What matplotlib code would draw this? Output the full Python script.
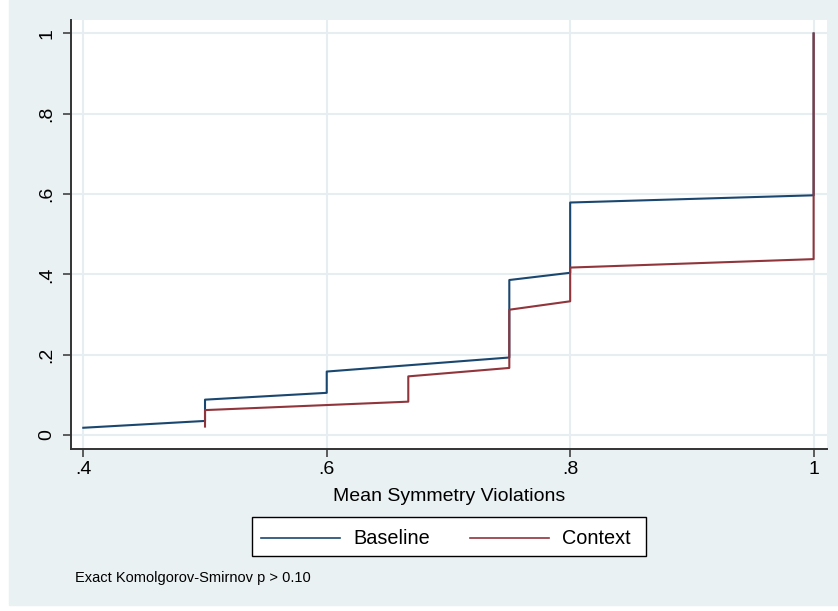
import matplotlib
matplotlib.use("Agg")
import matplotlib.pyplot as plt
from matplotlib.patches import Rectangle

plt.rcParams['font.family'] = ['Liberation Sans', 'DejaVu Sans']

# empirical CDF points (x, cumulative share); ties give the vertical jumps
baseline_x = [0.4, 0.5, 0.5, 0.6, 0.6, 0.75, 0.75, 0.8, 0.8, 1.0, 1.0]
baseline_y = [0.018, 0.035, 0.088, 0.105, 0.158, 0.193, 0.386, 0.404, 0.579, 0.597, 1.0]
context_x = [0.5, 0.5, 0.667, 0.667, 0.75, 0.75, 0.8, 0.8, 1.0, 1.0]
context_y = [0.021, 0.062, 0.083, 0.146, 0.167, 0.312, 0.333, 0.417, 0.438, 1.0]

x_ticks = [0.4, 0.6, 0.8, 1.0]
x_tick_labels = ['.4', '.6', '.8', '1']
y_ticks = [0, 0.2, 0.4, 0.6, 0.8, 1.0]
y_tick_labels = ['0', '.2', '.4', '.6', '.8', '1']

navy = '#1a476f'
maroon = '#90353b'
bg = '#eaf1f3'
grid = '#e6eef1'
W, H = 838, 611

fig = plt.figure(figsize=(W / 100, H / 100), dpi=100, facecolor='white')
fig.patches.append(Rectangle((9 / W, 6 / H), 1 - 9 / W, 1 - 6 / H,
                             transform=fig.transFigure, color=bg, zorder=-10))

ax = fig.add_axes([71 / W, (H - 449) / H, (827 - 71) / W, (449 - 20) / H])
ax.set_facecolor('white')

ax.plot(baseline_x, baseline_y, color=navy, lw=1.5, label='Baseline', zorder=3)
ax.plot(context_x, context_y, color=maroon, lw=1.5, label='Context', zorder=4)

ax.set_xlim(0.3899, 1.011)
ax.set_ylim(-0.0349, 1.0336)
ax.set_xticks(x_ticks, x_tick_labels)
ax.set_yticks(y_ticks, y_tick_labels)
ax.grid(True, color=grid, lw=1.5, zorder=0)
ax.set_axisbelow(True)

for side in ['top', 'right']:
    ax.spines[side].set_visible(False)
for side in ['left', 'bottom']:
    ax.spines[side].set_color('#333333')
    ax.spines[side].set_linewidth(1.4)

ax.tick_params(axis='both', direction='out', length=6, width=1.1,
               color='#333333', labelsize=14, labelcolor='black')
ax.tick_params(axis='x', pad=3)
ax.tick_params(axis='y', pad=5)
for lab in ax.get_yticklabels():
    lab.set_rotation(90)
    lab.set_va('center')

ax.set_xlabel('Mean Symmetry Violations', fontsize=14, labelpad=7)

# legend box drawn separately, entries placed inside it
fig.patches.append(Rectangle((252 / W, (H - 556) / H), (646 - 252) / W, (556 - 517) / H,
                             transform=fig.transFigure, facecolor='white',
                             edgecolor='black', lw=1.0, zorder=1))
leg = fig.legend(loc='center left', bbox_to_anchor=(261 / W, (H - 539) / H),
                 ncol=2, fontsize=14.3, frameon=False, borderpad=0,
                 borderaxespad=0, handlelength=4.0, handletextpad=0.65,
                 columnspacing=2.0)
leg.set_zorder(2)
for line in leg.get_lines():
    line.set_linewidth(1.2)

fig.text(75 / W, (H - 578) / H, 'Exact Komolgorov-Smirnov p > 0.10',
         fontsize=10.5, ha='left', va='center')

fig.savefig('out.png', dpi=100, facecolor='white')
